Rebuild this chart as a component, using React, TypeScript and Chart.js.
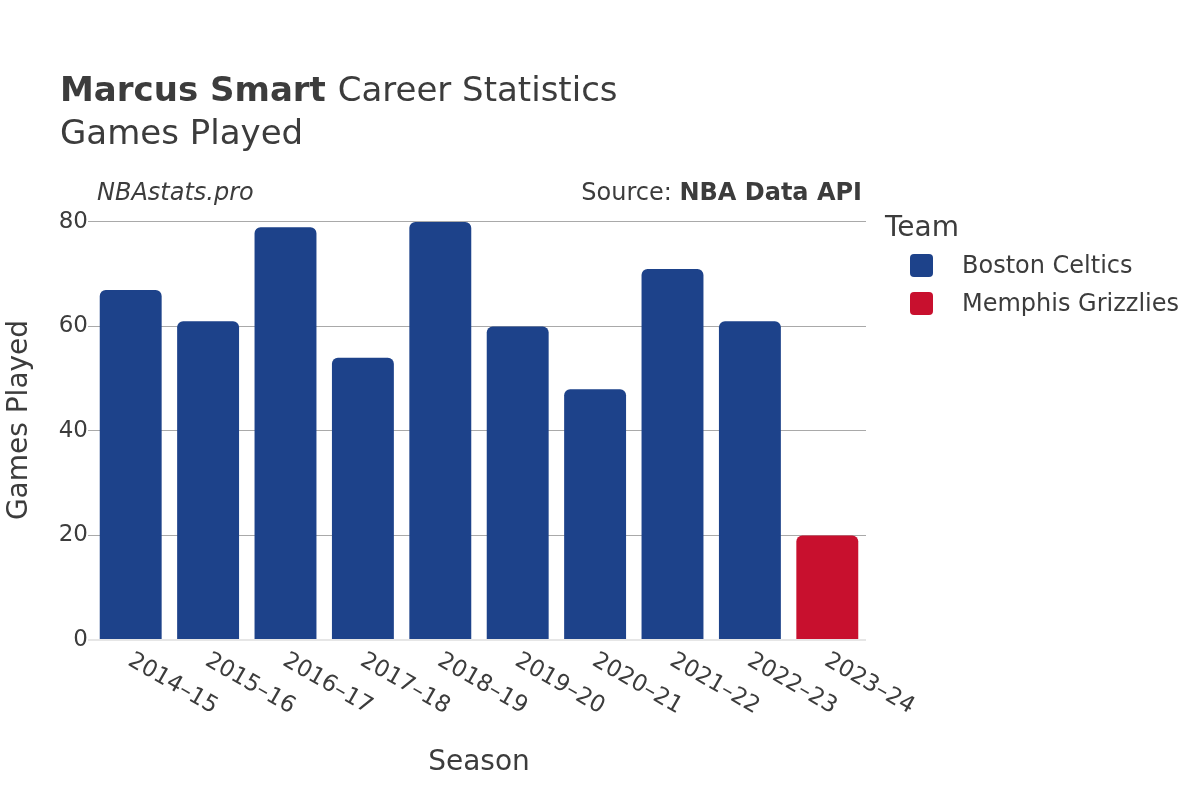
import React, { useEffect, useRef } from "react";
import { Chart, registerables } from "chart.js";

Chart.register(...registerables);

const SEASONS = ["2014–15", "2015–16", "2016–17", "2017–18", "2018–19", "2019–20", "2020–21", "2021–22", "2022–23", "2023–24"];
const GAMES = [67, 61, 79, 54, 80, 60, 48, 71, 61, 20];
const TEAMS = ["Boston Celtics", "Boston Celtics", "Boston Celtics", "Boston Celtics", "Boston Celtics", "Boston Celtics", "Boston Celtics", "Boston Celtics", "Boston Celtics", "Memphis Grizzlies"];
const LEGEND_TEAMS = ["Boston Celtics", "Memphis Grizzlies"];
const TEAM_COLORS: Record<string, string> = {
  "Boston Celtics": "#1d428a",
  "Memphis Grizzlies": "#c8102e",
};
const Y_TICKS = [0, 20, 40, 60, 80];
const Y_MAX = 84.21;

const FONT = "'DejaVu Sans', sans-serif";
const TEXT = "#3c3c3c";

function roundRect(ctx: CanvasRenderingContext2D, x: number, y: number, w: number, h: number, r: number) {
  ctx.beginPath();
  ctx.moveTo(x + r, y);
  ctx.lineTo(x + w - r, y);
  ctx.quadraticCurveTo(x + w, y, x + w, y + r);
  ctx.lineTo(x + w, y + h - r);
  ctx.quadraticCurveTo(x + w, y + h, x + w - r, y + h);
  ctx.lineTo(x + r, y + h);
  ctx.quadraticCurveTo(x, y + h, x, y + h - r);
  ctx.lineTo(x, y + r);
  ctx.quadraticCurveTo(x, y, x + r, y);
  ctx.closePath();
}

const textPlugin = {
  id: "textPlugin",
  afterDraw(chart: any) {
    const ctx: CanvasRenderingContext2D = chart.ctx;
    const xs = chart.scales.x;
    const area = chart.chartArea;
    ctx.save();
    ctx.fillStyle = TEXT;
    ctx.textBaseline = "alphabetic";
    ctx.textAlign = "left";

    // Title
    ctx.font = `bold 34px ${FONT}`;
    const bold = "Marcus Smart";
    ctx.fillText(bold, 60, 101);
    const bw = ctx.measureText(bold + " ").width;
    ctx.font = `34px ${FONT}`;
    ctx.fillText("Career Statistics", 60 + bw, 101);
    ctx.fillText("Games Played", 60, 144);

    // Watermark / source
    ctx.font = `italic 24px ${FONT}`;
    ctx.fillText("NBAstats.pro", 97, 200);
    ctx.textAlign = "right";
    ctx.font = `bold 24px ${FONT}`;
    const src = "NBA Data API";
    ctx.fillText(src, 862, 200);
    const sw = ctx.measureText(src).width;
    ctx.font = `24px ${FONT}`;
    ctx.fillText("Source: ", 862 - sw, 200);

    // X tick labels rotated
    ctx.font = `23px ${FONT}`;
    ctx.textAlign = "left";
    ctx.textBaseline = "middle";
    SEASONS.forEach((s, i) => {
      const x = xs.getPixelForValue(i);
      ctx.save();
      ctx.translate(x - 1, area.bottom + 19);
      ctx.rotate((30 * Math.PI) / 180);
      ctx.fillText(s, 0, 0);
      ctx.restore();
    });

    // Axis titles
    ctx.font = `28px ${FONT}`;
    ctx.textAlign = "center";
    ctx.textBaseline = "alphabetic";
    ctx.fillText("Season", (area.left + area.right) / 2, 770);
    ctx.save();
    ctx.translate(27, (area.top + area.bottom) / 2);
    ctx.rotate(-Math.PI / 2);
    ctx.fillText("Games Played", 0, 0);
    ctx.restore();

    // Legend
    ctx.textAlign = "left";
    ctx.font = `28px ${FONT}`;
    ctx.fillText("Team", 885, 236);
    ctx.font = `24px ${FONT}`;
    LEGEND_TEAMS.forEach((t, i) => {
      const cy = 265.5 + i * 38;
      ctx.fillStyle = TEAM_COLORS[t];
      roundRect(ctx, 910, cy - 11.5, 23, 23, 4);
      ctx.fill();
      ctx.fillStyle = TEXT;
      ctx.textBaseline = "middle";
      ctx.fillText(t, 962, cy + 1);
    });
    ctx.restore();
  },
};

export default function App() {
  const ref = useRef<HTMLCanvasElement>(null);
  useEffect(() => {
    if (!ref.current) return;
    const chart = new Chart(ref.current, {
      type: "bar",
      data: {
        labels: SEASONS,
        datasets: [
          {
            label: "Games Played",
            data: GAMES,
            backgroundColor: TEAMS.map((t) => TEAM_COLORS[t]),
            borderRadius: { topLeft: 6, topRight: 6, bottomLeft: 0, bottomRight: 0 },
            borderSkipped: "bottom",
            barPercentage: 0.8,
            categoryPercentage: 1,
          },
        ],
      },
      options: {
        responsive: false,
        animation: false,
        devicePixelRatio: 1,
        layout: { padding: { left: 0, right: 334, top: 200, bottom: 0 } },
        plugins: {
          legend: { display: false },
          tooltip: { enabled: false },
          title: { display: false },
        },
        scales: {
          x: {
            grid: { display: false, drawTicks: false },
            border: { display: false },
            ticks: { display: false },
            afterFit(scale: any) {
              scale.height = 160;
            },
          },
          y: {
            min: 0,
            max: Y_MAX,
            afterBuildTicks(scale: any) {
              scale.ticks = Y_TICKS.map((v) => ({ value: v }));
            },
            afterFit(scale: any) {
              scale.width = 92;
            },
            border: { display: false },
            grid: {
              color: (c: any) => (c.tick && c.tick.value === 0 ? "#e6e6e6" : "#a9a9a9"),
              lineWidth: (c: any) => (c.tick && c.tick.value === 0 ? 2 : 1),
              tickLength: 4,
              drawTicks: true,
            },
            ticks: {
              color: TEXT,
              font: { family: "DejaVu Sans", size: 23 },
              padding: 0,
            },
          },
        },
      },
      plugins: [textPlugin],
    });
    return () => chart.destroy();
  }, []);
  return (
    <div style={{ position: "absolute", left: 0, top: 0, width: 1200, height: 800, background: "#fff" }}>
      <canvas ref={ref} width={1200} height={800} style={{ width: 1200, height: 800 }} />
    </div>
  );
}
